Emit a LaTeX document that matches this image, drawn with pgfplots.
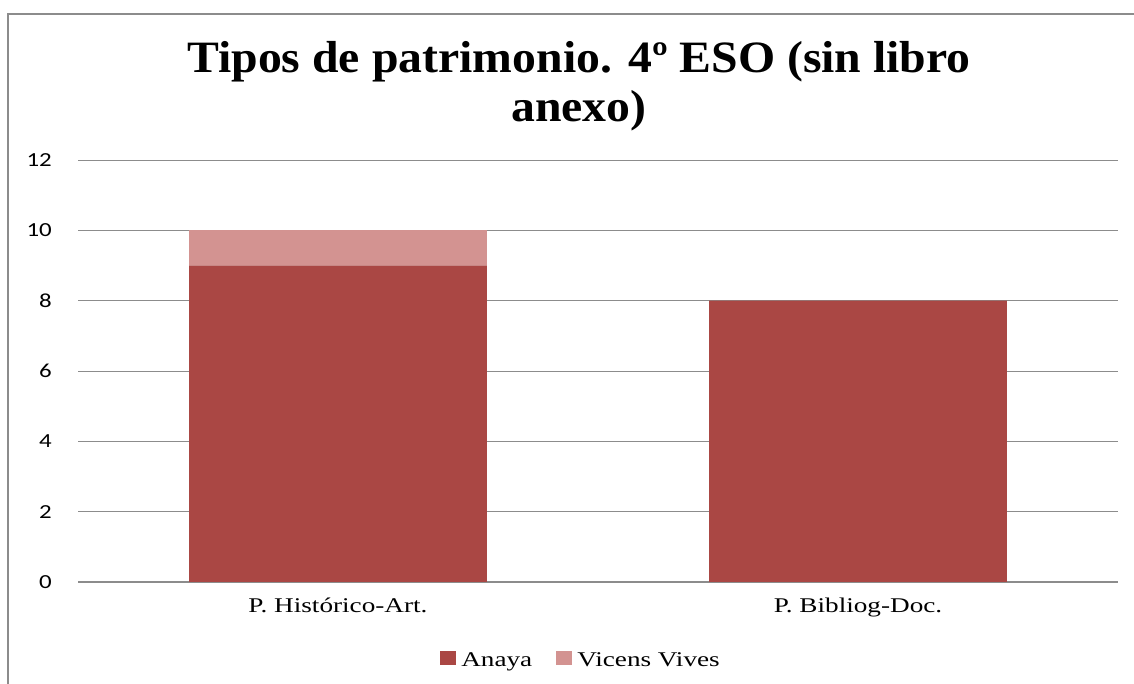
\documentclass[border=0pt]{standalone}
\usepackage{pgfplots}
\pgfplotsset{compat=1.18}
\usepackage{fontspec}
\setmainfont{Liberation Serif}
\newfontfamily\titlefont[FakeStretch=1.065]{Liberation Serif}
\newfontfamily\wideserif[FakeStretch=1.3]{Liberation Serif}
\newfontfamily\tickfont[FakeStretch=1.25]{Carlito}
\definecolor{anaya}{HTML}{AA4744}
\definecolor{vicens}{HTML}{D39391}
\definecolor{gridc}{HTML}{8C8C8C}
\begin{document}
\begin{tikzpicture}[x=1bp,y=1bp]
\useasboundingbox (0,0) rectangle (1134,684);
\draw[gridc, line width=2.5bp] (8,-20) -- (8,670) -- (1150,670);
\node[font=\titlefont\bfseries\fontsize{45}{49}\selectfont, anchor=base] at (579,611) {Tipos de patrimonio. 4º ESO (sin libro};
\node[font=\titlefont\bfseries\fontsize{45}{49}\selectfont, anchor=base] at (579,562) {anexo)};
\begin{axis}[
  at={(78bp,102bp)}, anchor=south west,
  scale only axis, width=1040bp, height=422bp,
  ybar stacked, bar width=0.573,
  xmin=-0.5, xmax=1.5, ymin=0, ymax=12,
  xtick={0,1}, xticklabels={P. Histórico-Art., P. Bibliog-Doc.},
  ytick={0,2,...,12},
  axis line style={draw=none},
  axis x line*=bottom,
  x axis line style={draw=gridc, line width=1bp},
  major tick length=0pt,
  ymajorgrids, grid style={gridc, line width=0.8bp},
  /pgf/number format/assume math mode=true,
  yticklabel style={font=\tickfont\fontsize{20}{22}\selectfont, inner sep=0pt, xshift=-26bp, anchor=east},
  xticklabel style={font=\wideserif\fontsize{21}{24}\selectfont, inner sep=0pt, yshift=-31bp, anchor=base},
  legend style={at={(axis description cs:0.4837,-0.185)}, anchor=center, draw=none, fill=none,
    legend columns=2, font=\wideserif\fontsize{21}{24}\selectfont,
    /tikz/every odd column/.append style={column sep=3bp},
    /tikz/every even column/.append style={column sep=22bp}},
  legend cell align=left,
  legend image code/.code={\fill[#1] (0bp,-5bp) rectangle (16bp,9bp);},
]
\addplot[fill=anaya, draw=none] coordinates {(0,9) (1,8)};
\addplot[fill=vicens, draw=none] coordinates {(0,1) (1,0)};
\legend{Anaya, Vicens Vives}
\end{axis}
\end{tikzpicture}
\end{document}
